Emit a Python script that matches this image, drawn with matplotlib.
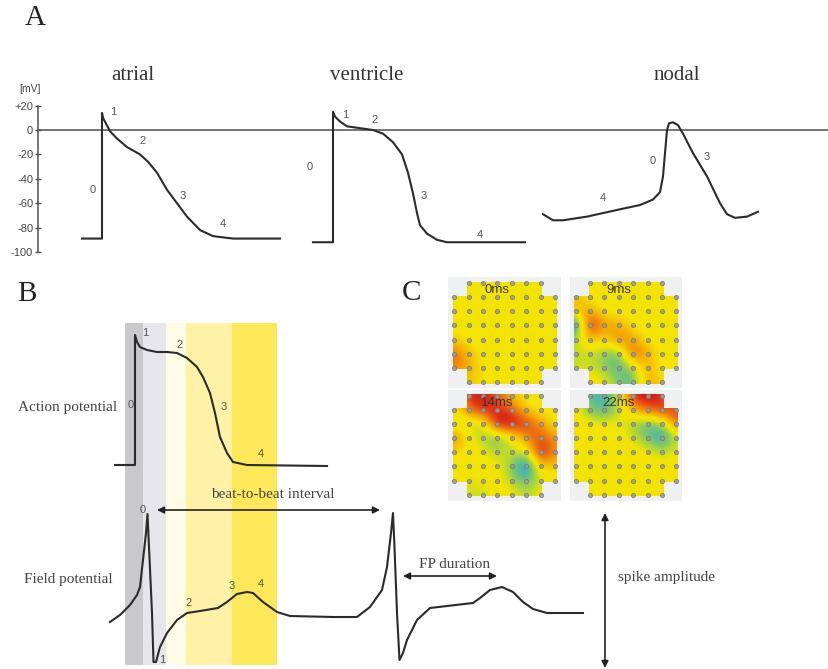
import numpy as np
import matplotlib
matplotlib.use('Agg')
import matplotlib.pyplot as plt
from matplotlib.patches import Rectangle, Polygon
from matplotlib.colors import LinearSegmentedColormap

# ---- panel A: action potentials (time in drawing units, potential in mV)
atrial_t = [82, 102, 102, 103, 110, 117, 127, 140, 148, 157, 167, 177, 187, 200, 213, 233, 280]
atrial_mv = [-89, -89, 14, 10, -1, -7, -14, -20, -26, -35, -49, -60, -71, -82, -87, -89, -89]

ventricle_t = [313, 333, 333, 335, 340, 347, 360, 373, 383, 393, 402, 408, 413, 417, 420, 427, 437, 447, 525]
ventricle_mv = [-92, -92, 15, 11, 7, 3, 1.5, 0, -3, -10, -20, -35, -52, -68, -78, -85, -90, -92, -92]

nodal_t = [543, 553, 563, 587, 620, 640, 653, 660, 663, 665, 667, 669, 673, 678, 683, 693, 707, 720, 727, 735, 747, 758]
nodal_mv = [-69, -74, -74, -71, -65, -61.5, -57, -51, -38, -19, 0, 5.5, 6.3, 4, -3, -19, -38, -60, -69, -72, -71, -67]

mv_ticks = [20, 0, -20, -40, -60, -80, -100]
mv_ticklabels = ['+20', '0', '-20', '-40', '-60', '-80', '-100']

# phase numbers (label, t, mV)
atrial_phases = [('1', 113, 15), ('2', 143, -9), ('0', 93, -49), ('3', 183, -54), ('4', 223, -77)]
ventricle_phases = [('1', 345, 12), ('2', 375, 8), ('0', 310, -30), ('3', 424, -54), ('4', 480, -86)]
nodal_phases = [('0', 653, -25), ('3', 707, -22), ('4', 603, -56)]

# ---- panel B: action potential and field potential traces
ap_x = [115, 135, 135, 137, 140, 147, 157, 167, 177, 187, 197, 203, 210, 215, 220, 227, 233, 247, 327]
ap_y = [465, 465, 335, 342, 347, 350, 352, 352, 353, 358, 367, 377, 393, 413, 437, 453, 462, 465, 466]

fp_x = [110, 120, 130, 137, 140, 143, 146, 147.5, 149, 152, 153.5, 156, 160, 167, 177, 187, 200, 218, 227, 237,
        247, 253, 263, 277, 290, 333, 357, 370, 382, 387, 391, 393, 394.5, 397, 399.5, 403, 407, 417, 430, 447,
        473, 480, 490, 502, 513, 523, 533, 547, 583]
fp_y = [622, 615, 605, 595, 587, 560, 533, 514, 547, 613, 662, 662, 647, 633, 620, 613, 611, 608, 602, 594,
        592, 593, 602, 612, 616, 617, 617, 607, 590, 567, 533, 513, 547, 613, 660, 653, 640, 620, 608, 606,
        603, 598, 590, 587, 592, 602, 609, 613, 613]

ap_phases = [('1', 145, 333), ('2', 180, 345), ('0', 131, 405), ('3', 224, 407), ('4', 261, 454)]
fp_phases = [('0', 143, 510), ('1', 162, 660), ('2', 189, 603), ('3', 232, 586), ('4', 261, 584)]

band_edges = [125, 143.5, 166.5, 186.5, 232, 277]
band_colors = ['#c9c9cc', '#e6e6ec', '#fffbe6', '#fff2a6', '#fde85a']

# ---- panel C: MEA activation maps (8x8 electrodes, 0 = baseline)
hm_0ms = [[0, 0, 0, 0, 0, 0, 0, 0],
          [0, 0, 0, 0, 0, 0, 0, 0],
          [0, 0, 0, 0, 0, 0, 0, 0],
          [0, 0, 0, 0, 0, 0, 0, 0],
          [0.15, 0, 0, 0, 0, 0, 0, 0],
          [0.6, 0.25, 0, 0, 0, 0, 0, 0],
          [0.5, 0.35, 0.05, 0, 0, 0, 0, 0],
          [0.1, 0.2, 0.05, 0, 0, 0, 0, 0]]
hm_9ms = [[0, 0, 0, 0, 0, 0, 0, 0],
          [0.3, 0, 0, 0, 0, 0, 0, 0],
          [0.2, 0.35, 0, 0, 0, 0, 0, 0],
          [-1.0, 1.0, 0.35, 0.35, 0, 0, 0, 0],
          [-0.2, 0.25, 0.1, 0.55, 0.35, 0, 0, 0],
          [-0.2, -0.15, -0.3, -0.45, 0.75, 0.3, 0, 0],
          [-0.15, -0.1, -0.3, -0.5, -0.25, 0.3, 0, 0],
          [0, 0, 0, -0.35, -0.5, 0.4, 0.1, 0]]
hm_14ms = [[0, 0.85, 0.9, 0.6, 0.2, 0, 0, 0],
           [-0.1, 0.6, 0.85, 0.85, 0.6, 0.15, 0, 0],
           [-0.15, -0.2, -0.2, 1.0, 1.0, 0.75, 0.4, 0],
           [0.55, 0.05, -0.25, -0.45, -0.1, 0.45, 0.7, 0.35],
           [0.1, 0, -0.05, -0.2, -0.1, -0.15, 1.0, 0.4],
           [0, -0.05, 0, 0, -0.35, -0.9, 0.25, 0.1],
           [0, -0.1, -0.05, 0, -0.2, -0.45, -0.1, 0],
           [0, -0.15, -0.15, 0, 0, -0.2, 0, 0]]
hm_22ms = [[0, -0.45, -0.55, -0.15, 0.85, 1.0, 0.8, 0],
           [0, -0.35, -0.55, -0.2, 0.3, 0.6, 0.8, 0.8],
           [0.05, 0, -0.05, 0, -0.3, -0.45, -0.3, 0.55],
           [0.15, 0, 0, 0, -0.1, -0.4, -0.7, -0.2],
           [0, -0.1, 0, 0, 0, 0, -0.2, 0],
           [0, 0, 0, 0, 0, 0, 0, 0],
           [0, 0, 0, 0, 0, 0, 0, 0],
           [0, 0, 0, 0, 0, 0, 0, 0]]
hm_labels = ['0ms', '9ms', '14ms', '22ms']

W, H = 829, 669
ink = '#2b2b2b'
serif = 'Liberation Serif'
sans = 'Liberation Sans'

fig = plt.figure(figsize=(W / 100, H / 100), dpi=100)
ax = fig.add_axes([0, 0, 1, 1])
ax.set_xlim(0, W)
ax.set_ylim(H, 0)
ax.axis('off')

# panel letters
for s, x, y in [('A', 35, 18), ('B', 27, 294), ('C', 412, 293)]:
    ax.text(x, y, s, fontsize=21, family=serif, color='#222', ha='center', va='center')

# ---------------- A
px_per_mv = 1.22
zero_px = 130
axA = fig.add_axes([0, 1 - (zero_px + 100 * px_per_mv) / H, 1, 120 * px_per_mv / H])
axA.set_facecolor('none')
axA.set_xlim(0, W)
axA.set_ylim(-100, 20)
for side in ['top', 'right', 'bottom']:
    axA.spines[side].set_visible(False)
axA.spines['left'].set_position(('data', 38))
axA.spines['left'].set_color('#505050')
axA.spines['left'].set_linewidth(1.1)
axA.set_xticks([])
axA.set_yticks(mv_ticks)
axA.set_yticklabels(mv_ticklabels, family=sans, fontsize=8, color='#444')
axA.tick_params(axis='y', direction='inout', length=4, width=1.0, color='#505050', pad=1.5)
axA.axhline(0, xmin=38 / W, xmax=1, color='#505050', lw=1.1)

for t, v in [(atrial_t, atrial_mv), (ventricle_t, ventricle_mv), (nodal_t, nodal_mv)]:
    axA.plot(t, v, color=ink, lw=1.5, solid_joinstyle='round', clip_on=False)
for s, t, v in atrial_phases + ventricle_phases + nodal_phases:
    axA.text(t, v, s, family=sans, fontsize=8, color='#555', ha='center', va='center')

ax.text(30, 89, '[mV]', family=sans, fontsize=7.5, color='#444', ha='center', va='center')
for s, x in [('atrial', 133), ('ventricle', 367), ('nodal', 677)]:
    ax.text(x, 75, s, family=serif, fontsize=15, color='#333', ha='center', va='center')

# ---------------- B
for (x0, x1), c in zip(zip(band_edges[:-1], band_edges[1:]), band_colors):
    ax.add_patch(Rectangle((x0, 322.7), x1 - x0, 342.3, color=c, lw=0, zorder=0))
ax.plot(ap_x, ap_y, color=ink, lw=1.5, zorder=3)
ax.plot(fp_x, fp_y, color=ink, lw=1.5, zorder=3)
for s, x, y in ap_phases + fp_phases:
    ax.text(x, y, s, family=sans, fontsize=8, color='#555', ha='center', va='center', zorder=4)

ax.text(68, 407, 'Action potential', family=serif, fontsize=11, color='#444', ha='center', va='center')
ax.text(68, 580, 'Field potential', family=serif, fontsize=11, color='#444', ha='center', va='center')

arrow = dict(arrowstyle='<|-|>', color='#222', lw=1.2, mutation_scale=10, shrinkA=0, shrinkB=0)
ax.annotate('', xy=(157, 510), xytext=(380, 510), arrowprops=arrow)
ax.text(273, 495, 'beat-to-beat interval', family=serif, fontsize=11, color='#444', ha='center', va='center')
ax.annotate('', xy=(403, 576), xytext=(497, 576), arrowprops=arrow)
ax.text(455, 564, 'FP duration', family=serif, fontsize=11, color='#444', ha='center', va='center')
ax.annotate('', xy=(605, 513), xytext=(605, 668), arrowprops=arrow)
ax.text(618, 578, 'spike amplitude', family=serif, fontsize=11, color='#444', ha='left', va='center')

# ---------------- C
cmap = LinearSegmentedColormap.from_list('mea', [
    (0.0, '#0c1e8c'), (0.12, '#2a6cd0'), (0.22, '#38b0c8'), (0.33, '#80c868'),
    (0.43, '#cade20'), (0.47, '#f2e400'), (0.53, '#f5e400'), (0.66, '#f6ac00'),
    (0.8, '#ec6212'), (0.9, '#dc2c18'), (1.0, '#c01010')])
DX, DY = 14.4, 14.15
origins = [(454.3, 283), (575.7, 283), (454.3, 395.7), (575.7, 395.7)]

for grid, (x0, y0), lab in zip([hm_0ms, hm_9ms, hm_14ms, hm_22ms], origins, hm_labels):
    ax.add_patch(Rectangle((x0 - 6, y0 - 6), 7 * DX + 12, 7 * DY + 12, color='#eef0f2', lw=0, zorder=1))
    im = ax.imshow(np.array(grid), cmap=cmap, vmin=-1, vmax=1, interpolation='bicubic',
                   interpolation_stage='data',
                   extent=(x0 - DX / 2, x0 + 7.5 * DX, y0 + 7.5 * DY, y0 - DY / 2), aspect='auto', zorder=2)
    m = 1.5
    L, R, T, B = x0 - m, x0 + 7 * DX + m, y0 - m, y0 + 7 * DY + m
    l1, r1, t1, b1 = x0 + DX - m, x0 + 6 * DX + m, y0 + DY - m, y0 + 6 * DY + m
    clip = Polygon([(l1, T), (r1, T), (r1, t1), (R, t1), (R, b1), (r1, b1), (r1, B), (l1, B),
                    (l1, b1), (L, b1), (L, t1), (l1, t1)], closed=True, transform=ax.transData)
    im.set_clip_path(clip)
    cols, rows = np.meshgrid(np.arange(8), np.arange(8))
    keep = ~(((cols == 0) | (cols == 7)) & ((rows == 0) | (rows == 7)))
    ax.scatter(x0 + cols[keep] * DX, y0 + rows[keep] * DY, s=10, facecolor='#9a9a9a',
               edgecolor='#777777', lw=0.5, alpha=0.9, zorder=3)
    ax.text(x0 + 3 * DX, y0 + 0.5 * DY, lab, family=sans, fontsize=9.5, color='#333',
            ha='center', va='center', zorder=4)

ax.set_xlim(0, W)
ax.set_ylim(H, 0)
fig.savefig('out.png', dpi=100)
